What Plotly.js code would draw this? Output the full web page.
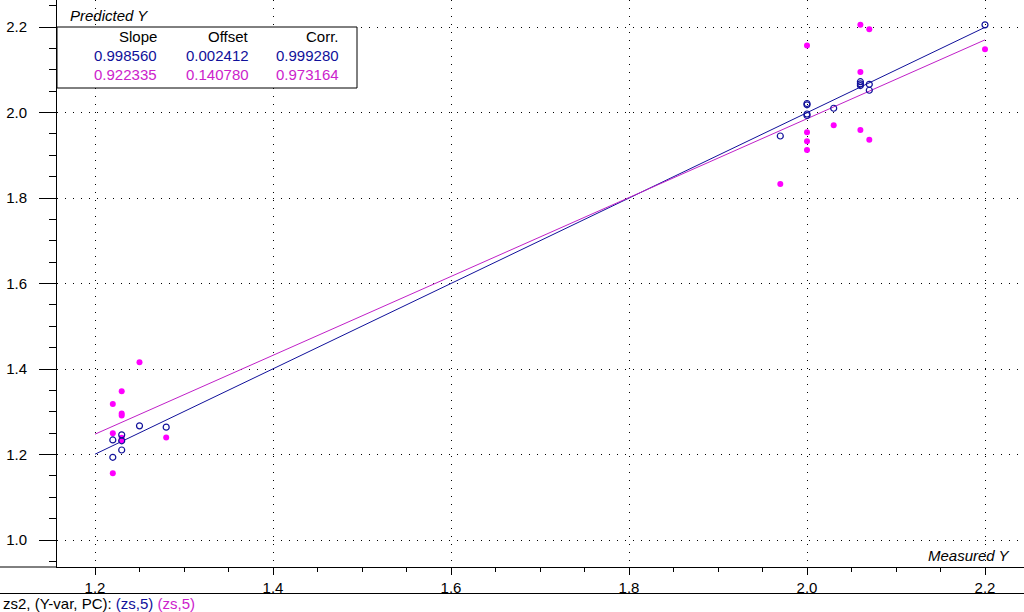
<!DOCTYPE html>
<html>
<head>
<meta charset="utf-8">
<script src="https://cdn.plot.ly/plotly-3.0.1.min.js"></script>
<style>html,body{margin:0;padding:0;background:#fff;}#chart{width:1024px;height:612px;}</style>
</head>
<body>
<div id="chart"></div>
<script>
// ---- data ----
const blueMeasured = [1.25, 1.28, 1.23, 1.22, 1.23, 1.23, 1.22,
  2.20, 2.06, 2.06, 2.06, 2.07, 2.07, 2.00, 2.00, 2.00, 2.00, 2.03, 1.97];
const bluePredicted = [1.267, 1.264, 1.246, 1.234, 1.232, 1.2105, 1.1935,
  2.205, 2.072, 2.067, 2.063, 2.066, 2.052, 2.021, 2.018, 1.9965, 1.993, 2.010, 1.945];
const magMeasured = [1.25, 1.23, 1.22, 1.23, 1.23, 1.22, 1.23, 1.23, 1.28, 1.22,
  2.06, 2.07, 2.00, 2.06, 2.20, 2.03, 2.00, 2.06, 2.00, 2.07, 2.00, 1.97];
const magPredicted = [1.416, 1.348, 1.318, 1.296, 1.291, 1.250, 1.239, 1.233, 1.240, 1.156,
  2.205, 2.195, 2.157, 2.095, 2.148, 1.970, 1.954, 1.959, 1.933, 1.936, 1.912, 1.833];
const slopes = [0.998560, 0.922335];
const offsets = [0.002412, 0.140780];
const corrs = [0.999280, 0.973164];
const fitRange = [1.2, 2.2];
const headers = ["Slope", "Offset", "Corr."];
const xTickVals = [1.2, 1.4, 1.6, 1.8, 2.0, 2.2];
const yTickVals = [1.0, 1.2, 1.4, 1.6, 1.8, 2.0, 2.2];

const BLUE = '#10109a';
const MAG = '#ff00ff';
const MAGLINE = '#c020c8';
const MAGTEXT = '#cc22cc';
const FONT = 'Liberation Sans, Arial, sans-serif';

const traces = [
  {x: fitRange, y: fitRange.map(v => slopes[0]*v + offsets[0]), mode: 'lines',
   line: {color: BLUE, width: 1}, hoverinfo: 'skip'},
  {x: fitRange, y: fitRange.map(v => slopes[1]*v + offsets[1]), mode: 'lines',
   line: {color: MAGLINE, width: 1}, hoverinfo: 'skip'},
  {x: magMeasured, y: magPredicted, mode: 'markers',
   marker: {symbol: 'circle', size: 6, color: MAG}},
  {x: blueMeasured, y: bluePredicted, mode: 'markers',
   marker: {symbol: 'circle-open', size: 6, color: BLUE, line: {width: 1.2, color: BLUE}}}
];

// pixel helpers (plot area: x 57..1024, y 0..567)
const L = 57, W = 967, H = 567;
const px = p => (p - L) / W;
const py = p => 1 - p / H;

const annotations = [
  {text: 'Predicted Y', x: px(69), y: py(15), xanchor: 'left', yanchor: 'middle',
   font: {family: FONT, size: 15, color: '#000', style: 'italic'}},
  {text: 'Measured Y', x: px(1011), y: py(555), xanchor: 'right', yanchor: 'middle',
   font: {family: FONT, size: 15, color: '#000', style: 'italic'}},
  {text: 'zs2, (Y-var, PC): <span style="color:' + BLUE + '">(zs,5)</span> <span style="color:' + MAGTEXT + '">(zs,5)</span>',
   x: px(2), y: py(603), xanchor: 'left', yanchor: 'middle',
   font: {family: FONT, size: 15, color: '#000'}}
];
const colRight = [158, 250, 340];
const rowY = [37, 55.5, 74];
headers.forEach((h, i) => annotations.push({text: h, x: px(colRight[i]), y: py(rowY[0]),
  xanchor: 'right', yanchor: 'middle', font: {family: FONT, size: 15, color: '#000'}}));
[[slopes[0], offsets[0], corrs[0], BLUE], [slopes[1], offsets[1], corrs[1], MAGTEXT]].forEach((r, j) => {
  for (let i = 0; i < 3; i++) {
    annotations.push({text: r[i].toFixed(6), x: px(colRight[i]), y: py(rowY[j+1]),
      xanchor: 'right', yanchor: 'middle', font: {family: FONT, size: 15, color: r[3]}});
  }
});
annotations.forEach(a => { a.xref = 'paper'; a.yref = 'paper'; a.showarrow = false; a.borderpad = 0; });

const shapes = [
  {type: 'rect', xref: 'paper', yref: 'paper', x0: 0, x1: px(357), y0: py(88), y1: py(27),
   line: {color: '#000', width: 1}, fillcolor: '#fff', layer: 'above'},
  {type: 'line', xref: 'paper', yref: 'paper', x0: px(0), x1: 1, y0: py(593.5), y1: py(593.5),
   line: {color: '#000', width: 1}},
  {type: 'line', xref: 'paper', yref: 'paper', x0: px(0), x1: 0, y0: 0, y1: 0,
   line: {color: '#000', width: 1}}
];

const x0 = 1.2 - 38/890, y1 = 2.2 + 27/427.5;
const layout = {
  width: 1024, height: 612,
  margin: {l: L, r: 0, t: 0, b: 612 - H, pad: 0},
  paper_bgcolor: '#fff', plot_bgcolor: '#fff',
  showlegend: false,
  font: {family: FONT, size: 15, color: '#000'},
  xaxis: {range: [x0, x0 + W/890], tickvals: xTickVals, ticktext: xTickVals.map(v => v.toFixed(1)),
    ticks: 'outside', ticklen: 7, tickcolor: '#000', tickwidth: 1,
    showline: true, linecolor: '#000', linewidth: 1, zeroline: false,
    showgrid: true, gridcolor: '#000', gridwidth: 1, griddash: '1px,7px',
    minor: {dtick: 0.05, tick0: 1.2, ticks: 'outside', ticklen: 4, tickcolor: '#000', showgrid: false},
    tickfont: {family: FONT, size: 15, color: '#000'}},
  yaxis: {range: [y1 - H/427.5, y1], tickvals: yTickVals, ticktext: yTickVals.map(v => v.toFixed(1)),
    ticks: 'outside', ticklen: 17, tickcolor: '#000', tickwidth: 1, ticklabelstandoff: 9,
    showline: true, linecolor: '#000', linewidth: 1, zeroline: false,
    showgrid: true, gridcolor: '#000', gridwidth: 1, griddash: '1px,7px',
    minor: {dtick: 0.05, tick0: 1.0, ticks: 'outside', ticklen: 7, tickcolor: '#000', showgrid: false},
    tickfont: {family: FONT, size: 15, color: '#000'}},
  annotations: annotations,
  shapes: shapes
};

Plotly.newPlot('chart', traces, layout, {staticPlot: true, displayModeBar: false});
</script>
</body>
</html>
